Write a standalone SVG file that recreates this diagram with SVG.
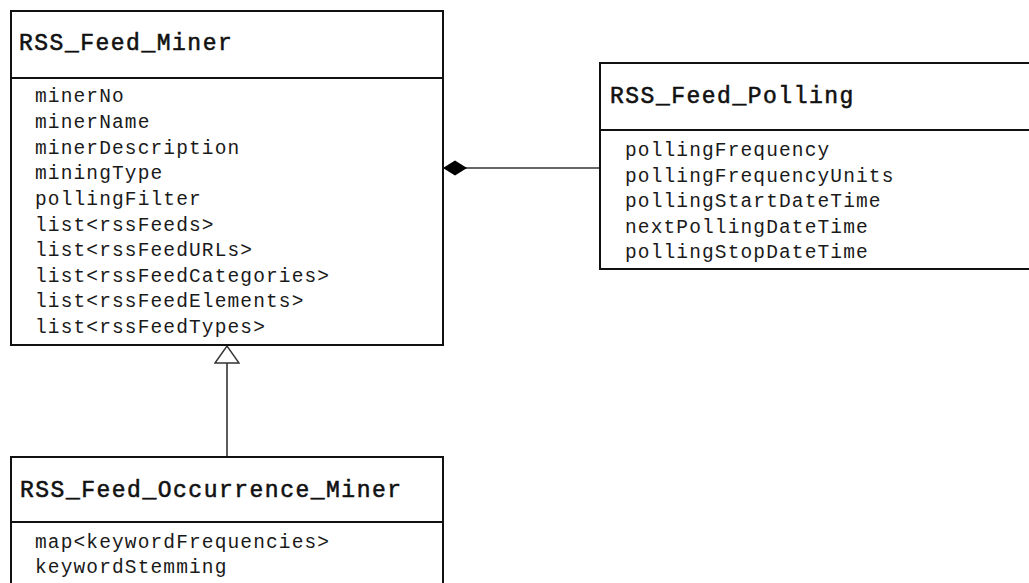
<svg xmlns="http://www.w3.org/2000/svg" width="1029" height="583" viewBox="0 0 1029 583">
  <style>
    .box { fill: #ffffff; stroke: #111111; stroke-width: 2; }
    .sep { stroke: #111111; stroke-width: 2.2; }
    .title { font-family: "Liberation Mono", "Courier New", monospace; font-size: 23px; letter-spacing: 1.5px; fill: #111111; stroke: #111111; stroke-width: 0.55; }
    .attr { font-family: "Liberation Mono", "Courier New", monospace; font-size: 19.5px; letter-spacing: 1.13px; fill: #1a1a1a; }
    .link { stroke: #333333; stroke-width: 1.6; fill: none; }
  </style>
  <defs>
    <marker id="composition" markerUnits="userSpaceOnUse" viewBox="0 0 24 16" markerWidth="24" markerHeight="16" refX="0" refY="8" orient="auto">
      <path d="M0,8 L12,0.5 L24,8 L12,15.5 Z" fill="#000000"/>
    </marker>
    <marker id="generalization" markerUnits="userSpaceOnUse" viewBox="-1 -1 20 26" markerWidth="20" markerHeight="26" refX="17" refY="12" orient="auto">
      <path d="M0,0 L17,12 L0,24 Z" fill="#ffffff" stroke="#333333" stroke-width="1.4"/>
    </marker>
  </defs>

  <rect width="1029" height="583" fill="#ffffff"/>

  <!-- associations -->
  <g id="connectors">
    <line class="link" x1="443" y1="168" x2="600" y2="168" marker-start="url(#composition)"/>
    <line class="link" x1="227" y1="456" x2="227" y2="346" marker-end="url(#generalization)"/>
  </g>

  <g id="rss-feed-miner">
    <rect class="box" x="11" y="11" width="432" height="334"/>
    <line class="sep" x1="11" y1="78" x2="443" y2="78"/>
    <text class="title" x="19" y="50">RSS_Feed_Miner</text>
    <text class="attr" x="35" y="102">minerNo</text>
    <text class="attr" x="35" y="128">minerName</text>
    <text class="attr" x="35" y="153.5">minerDescription</text>
    <text class="attr" x="35" y="179">miningType</text>
    <text class="attr" x="35" y="205">pollingFilter</text>
    <text class="attr" x="35" y="230.5">list&lt;rssFeeds&gt;</text>
    <text class="attr" x="35" y="256">list&lt;rssFeedURLs&gt;</text>
    <text class="attr" x="35" y="282">list&lt;rssFeedCategories&gt;</text>
    <text class="attr" x="35" y="307">list&lt;rssFeedElements&gt;</text>
    <text class="attr" x="35" y="333">list&lt;rssFeedTypes&gt;</text>
  </g>

  <g id="rss-feed-polling">
    <rect class="box" x="600" y="63" width="440" height="206"/>
    <line class="sep" x1="600" y1="130" x2="1040" y2="130"/>
    <text class="title" x="610" y="103">RSS_Feed_Polling</text>
    <text class="attr" x="625" y="156">pollingFrequency</text>
    <text class="attr" x="625" y="181.5">pollingFrequencyUnits</text>
    <text class="attr" x="625" y="207">pollingStartDateTime</text>
    <text class="attr" x="625" y="232.5">nextPollingDateTime</text>
    <text class="attr" x="625" y="258">pollingStopDateTime</text>
  </g>

  <g id="rss-feed-occurrence-miner">
    <rect class="box" x="11" y="457" width="432" height="140"/>
    <line class="sep" x1="11" y1="522" x2="443" y2="522"/>
    <text class="title" x="20" y="497">RSS_Feed_Occurrence_Miner</text>
    <text class="attr" x="35" y="548">map&lt;keywordFrequencies&gt;</text>
    <text class="attr" x="35" y="573">keywordStemming</text>
  </g>
</svg>
